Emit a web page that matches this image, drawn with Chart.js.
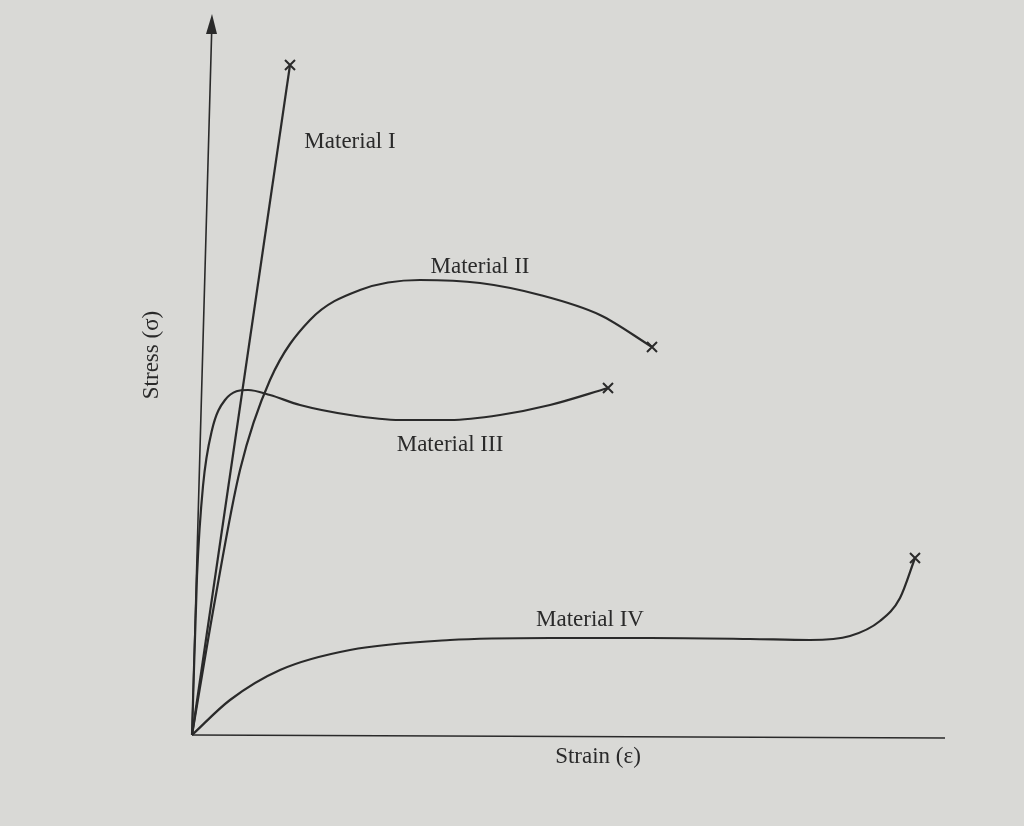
<!DOCTYPE html>
<html><head><meta charset="utf-8">
<script src="https://cdn.jsdelivr.net/npm/chart.js@4"></script>
<style>html,body{margin:0;padding:0;background:#d9d9d6}#w{width:1024px;height:826px}</style>
</head><body><div id="w"><canvas id="c"></canvas></div>
<script>
// coordinates in a figure unit space (x right, y up), origin of plot at (192,91)
const yAxisLine=[[192,91],[212,806]];
const xAxisLine=[[192,91],[945,88]];
const materialI=[[192,91],[290,761]];
const materialII=[[192,91],[215,226],[240,356],[270,446],[310,506],[360,536],[420,546],[480,543],[540,531],[600,511],[652,479]];
const materialIII=[[192,91],[197,250],[203,340],[212,396],[225,426],[248,436],[270,431],[300,421],[350,411],[400,406],[450,406],[500,411],[550,421],[608,438]];
const materialIV=[[192,91],[230,126],[280,156],[350,176],[450,186],[550,188],[650,188],[750,187],[810,186],[850,190],[880,205],[900,228],[915,268]];
const labels=[["Material I",350,684],["Material II",480,559],["Material III",450,381],["Material IV",590,206],["Strain (ε)",598,69]];
const yTitle=["Stress (σ)",152,471];
const pts=a=>a.map(p=>({x:p[0],y:p[1]}));
const ds=(a)=>({data:pts(a),showLine:true,borderColor:'#2a2a2a',borderWidth:2.2,pointRadius:0,tension:0.4,cubicInterpolationMode:'monotone',fill:false});
const ends=[materialI,materialII,materialIII,materialIV].map(a=>a[a.length-1]);
const plugin={id:'ann',afterDatasetsDraw(ch){
 const c=ch.ctx,X=ch.scales.x,Y=ch.scales.y;
 c.save();c.strokeStyle='#2a2a2a';c.fillStyle='#2a2a2a';c.lineWidth=2;
 ends.forEach(e=>{const px=X.getPixelForValue(e[0]),py=Y.getPixelForValue(e[1]);c.beginPath();c.moveTo(px-5,py-5);c.lineTo(px+5,py+5);c.moveTo(px+5,py-5);c.lineTo(px-5,py+5);c.stroke();});
 const ax=X.getPixelForValue(212),ay=Y.getPixelForValue(806);
 c.beginPath();c.moveTo(ax,ay-6);c.lineTo(ax-6,ay+14);c.lineTo(ax+5,ay+14);c.closePath();c.fill();
 c.font='23px "Liberation Serif"';c.textAlign='center';c.textBaseline='middle';
 labels.forEach(l=>c.fillText(l[0],X.getPixelForValue(l[1]),Y.getPixelForValue(l[2])));
 c.translate(X.getPixelForValue(yTitle[1]),Y.getPixelForValue(yTitle[2]));c.rotate(-Math.PI/2);c.fillText(yTitle[0],0,0);
 c.restore();}};
new Chart(document.getElementById('c'),{type:'scatter',
 data:{datasets:[
  {...ds(yAxisLine),tension:0,borderWidth:1.6},{...ds(xAxisLine),tension:0,borderWidth:1.6},
  {...ds(materialI),tension:0},ds(materialII),ds(materialIII),ds(materialIV)]},
 options:{responsive:true,maintainAspectRatio:false,animation:false,layout:{padding:0},
  plugins:{legend:{display:false},tooltip:{enabled:false}},
  scales:{x:{type:'linear',min:0,max:1024,display:false},y:{type:'linear',min:0,max:826,display:false}}},
 plugins:[plugin]});
</script></body></html>
